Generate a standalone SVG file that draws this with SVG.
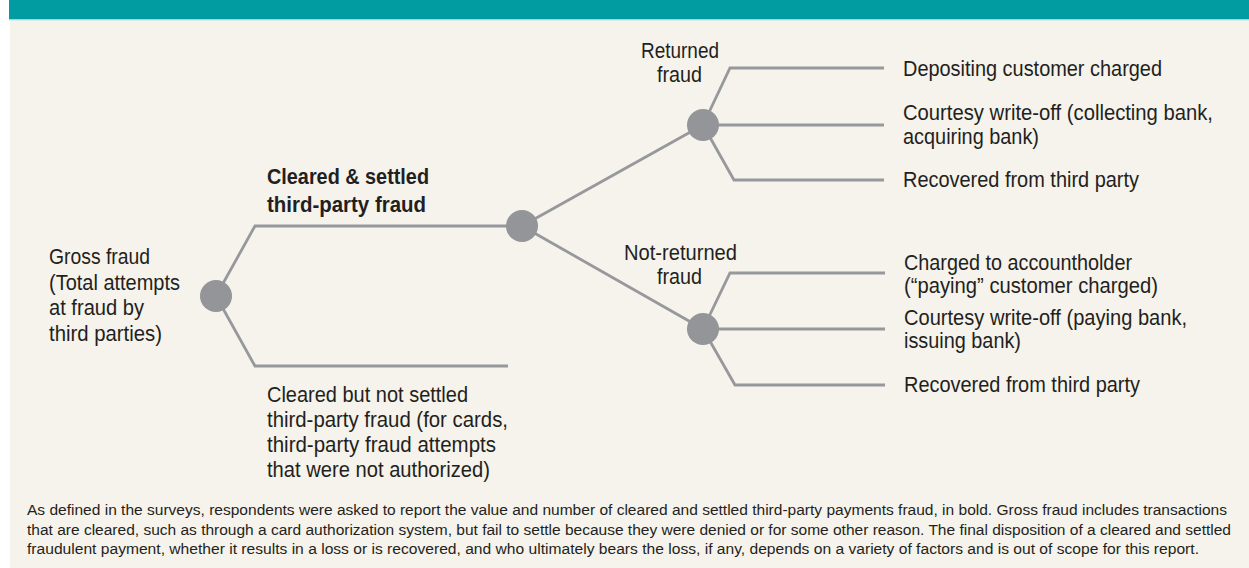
<svg xmlns="http://www.w3.org/2000/svg" width="1249" height="568" viewBox="0 0 1249 568">
<style>
.t{font-family:"Liberation Sans",Arial,sans-serif;font-size:22px;fill:#231f20}
.b{font-weight:bold}
.cap{font-family:"Liberation Sans",Arial,sans-serif;font-size:15.5px;fill:#231f20}
.ln{fill:none;stroke:#97989b;stroke-width:2.8;stroke-linejoin:miter}
.nd{fill:#939598}
</style>
<rect x="0" y="0" width="1249" height="568" fill="#ffffff"/>
<rect x="10" y="20" width="1239" height="548" fill="#f6f3ec"/>
<rect x="9" y="0" width="1240" height="19.5" fill="#009ca1"/>
<rect x="9" y="19.5" width="1240" height="1" fill="#bfe3e0"/>
<g id="connectors">
<polyline class="ln" points="216,296 255,226 522,226"/>
<polyline class="ln" points="216,296 255,366 508,366"/>
<line class="ln" x1="522" y1="226" x2="703" y2="125"/>
<line class="ln" x1="522" y1="226" x2="703" y2="329"/>
<polyline class="ln" points="703,125 730,68 884,68"/>
<polyline class="ln" points="703,125 884,125"/>
<polyline class="ln" points="703,125 734,180 884,180"/>
<polyline class="ln" points="703,329 730,273 885,273"/>
<polyline class="ln" points="703,329 885,329"/>
<polyline class="ln" points="703,329 735,385 885,385"/>
</g>
<g id="gross">
<circle class="nd" cx="216" cy="296" r="16"/>
<text class="t" x="49" y="264" textLength="101" lengthAdjust="spacingAndGlyphs">Gross fraud</text>
<text class="t" x="49" y="289.5" textLength="131" lengthAdjust="spacingAndGlyphs">(Total attempts</text>
<text class="t" x="49" y="315" textLength="95" lengthAdjust="spacingAndGlyphs">at fraud by</text>
<text class="t" x="49" y="340.5" textLength="113" lengthAdjust="spacingAndGlyphs">third parties)</text>
</g>
<g id="cleared-settled">
<circle class="nd" cx="522" cy="226" r="16"/>
<text class="t b" x="267" y="183.5" textLength="162" lengthAdjust="spacingAndGlyphs">Cleared &amp; settled</text>
<text class="t b" x="267" y="211.5" textLength="159" lengthAdjust="spacingAndGlyphs">third-party fraud</text>
</g>
<g id="cleared-not-settled">
<text class="t" x="267" y="402" textLength="201" lengthAdjust="spacingAndGlyphs">Cleared but not settled</text>
<text class="t" x="267" y="427" textLength="241" lengthAdjust="spacingAndGlyphs">third-party fraud (for cards,</text>
<text class="t" x="267" y="452" textLength="229" lengthAdjust="spacingAndGlyphs">third-party fraud attempts</text>
<text class="t" x="267" y="477" textLength="223" lengthAdjust="spacingAndGlyphs">that were not authorized)</text>
</g>
<g id="returned">
<circle class="nd" cx="703" cy="125" r="16"/>
<text class="t" x="641" y="58" textLength="78" lengthAdjust="spacingAndGlyphs">Returned</text>
<text class="t" x="657" y="82" textLength="45" lengthAdjust="spacingAndGlyphs">fraud</text>
</g>
<g id="not-returned">
<circle class="nd" cx="703" cy="329" r="16"/>
<text class="t" x="624" y="260" textLength="113" lengthAdjust="spacingAndGlyphs">Not-returned</text>
<text class="t" x="657" y="284" textLength="45" lengthAdjust="spacingAndGlyphs">fraud</text>
</g>
<g id="depositing-charged">
<text class="t" x="903" y="76" textLength="259" lengthAdjust="spacingAndGlyphs">Depositing customer charged</text>
</g>
<g id="courtesy-collecting">
<text class="t" x="903" y="120" textLength="310" lengthAdjust="spacingAndGlyphs">Courtesy write-off (collecting bank,</text>
<text class="t" x="903" y="143.5" textLength="136" lengthAdjust="spacingAndGlyphs">acquiring bank)</text>
</g>
<g id="recovered-1">
<text class="t" x="903" y="187" textLength="236" lengthAdjust="spacingAndGlyphs">Recovered from third party</text>
</g>
<g id="charged-accountholder">
<text class="t" x="904" y="269.5" textLength="228" lengthAdjust="spacingAndGlyphs">Charged to accountholder</text>
<text class="t" x="904" y="292.5" textLength="254" lengthAdjust="spacingAndGlyphs">(“paying” customer charged)</text>
</g>
<g id="courtesy-paying">
<text class="t" x="904" y="325" textLength="283" lengthAdjust="spacingAndGlyphs">Courtesy write-off (paying bank,</text>
<text class="t" x="904" y="348" textLength="117" lengthAdjust="spacingAndGlyphs">issuing bank)</text>
</g>
<g id="recovered-2">
<text class="t" x="904" y="392" textLength="236" lengthAdjust="spacingAndGlyphs">Recovered from third party</text>
</g>
<g id="caption">
<text class="cap" x="27" y="515" textLength="1200" lengthAdjust="spacingAndGlyphs">As defined in the surveys, respondents were asked to report the value and number of cleared and settled third-party payments fraud, in bold. Gross fraud includes transactions</text>
<text class="cap" x="27" y="534.5" textLength="1204" lengthAdjust="spacingAndGlyphs">that are cleared, such as through a card authorization system, but fail to settle because they were denied or for some other reason. The final disposition of a cleared and settled</text>
<text class="cap" x="27" y="554" textLength="1172" lengthAdjust="spacingAndGlyphs">fraudulent payment, whether it results in a loss or is recovered, and who ultimately bears the loss, if any, depends on a variety of factors and is out of scope for this report.</text>
</g>
</svg>
